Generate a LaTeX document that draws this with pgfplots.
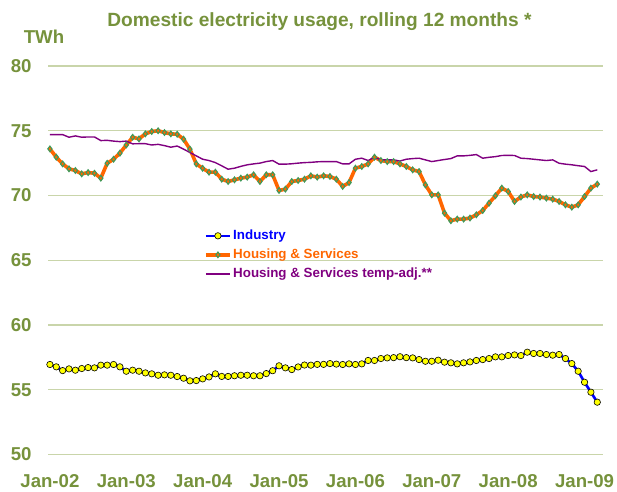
\documentclass[border=0pt]{standalone}
\usepackage{pgfplots}
\pgfplotsset{compat=1.18}
\usepackage{pgfplotstable}
\usepackage{fontspec}
\setmainfont{Liberation Sans}
\definecolor{olivec}{HTML}{76923C}
\definecolor{gridc}{HTML}{C9D5AA}
\definecolor{orangec}{HTML}{FF6600}
\definecolor{markg}{HTML}{3E9A5A}
\definecolor{purplec}{HTML}{800080}
\definecolor{bluec}{HTML}{0000FF}
\definecolor{yellowc}{HTML}{FFFF00}

\pgfplotstableread{
m v
0 56.95
1 56.77
2 56.48
3 56.61
4 56.51
5 56.64
6 56.71
7 56.69
8 56.90
9 56.90
10 56.95
11 56.77
12 56.43
13 56.51
14 56.43
15 56.30
16 56.23
17 56.12
18 56.15
19 56.12
20 56.02
21 55.89
22 55.69
23 55.71
24 55.84
25 55.99
26 56.23
27 56.03
28 56.03
29 56.08
30 56.12
31 56.12
32 56.08
33 56.08
34 56.25
35 56.47
36 56.85
37 56.69
38 56.56
39 56.76
40 56.91
41 56.90
42 56.96
43 56.96
44 57.02
45 56.98
46 56.95
47 57.00
48 56.95
49 57.00
50 57.26
51 57.26
52 57.41
53 57.46
54 57.48
55 57.55
56 57.48
57 57.46
58 57.33
59 57.20
60 57.20
61 57.28
62 57.13
63 57.08
64 57.00
65 57.08
66 57.15
67 57.26
68 57.33
69 57.41
70 57.54
71 57.54
72 57.64
73 57.69
74 57.64
75 57.90
76 57.80
77 57.80
78 57.72
79 57.67
80 57.72
81 57.41
82 57.02
83 56.43
84 55.58
85 54.81
86 54.04
}\industry

\pgfplotstableread{
m v
0 73.60
1 72.96
2 72.44
3 72.06
4 71.93
5 71.67
6 71.77
7 71.72
8 71.34
9 72.49
10 72.80
11 73.27
12 73.90
13 74.50
14 74.37
15 74.76
16 74.94
17 75.00
18 74.86
19 74.76
20 74.73
21 74.35
22 73.58
23 72.44
24 72.10
25 71.80
26 71.80
27 71.26
28 71.08
29 71.21
30 71.34
31 71.42
32 71.60
33 71.08
34 71.60
35 71.60
36 70.39
37 70.49
38 71.08
39 71.16
40 71.26
41 71.52
42 71.42
43 71.52
44 71.47
45 71.26
46 70.70
47 71.00
48 72.11
49 72.24
50 72.44
51 72.96
52 72.70
53 72.62
54 72.62
55 72.44
56 72.24
57 71.98
58 71.85
59 70.82
60 70.05
61 70.05
62 68.64
63 68.05
64 68.18
65 68.18
66 68.26
67 68.51
68 68.84
69 69.41
70 69.98
71 70.57
72 70.31
73 69.54
74 69.88
75 70.05
76 69.92
77 69.88
78 69.80
79 69.72
80 69.54
81 69.28
82 69.10
83 69.28
84 69.92
85 70.57
86 70.88
}\housing

\pgfplotstableread{
m v
0 74.70
1 74.70
2 74.70
3 74.50
4 74.60
5 74.50
6 74.52
7 74.52
8 74.24
9 74.26
10 74.20
11 74.16
12 74.20
13 73.99
14 74.00
15 74.00
16 73.90
17 73.95
18 73.85
19 73.73
20 73.82
21 73.58
22 73.32
23 73.06
24 72.80
25 72.70
26 72.54
27 72.29
28 72.03
29 72.11
30 72.25
31 72.37
32 72.44
33 72.50
34 72.62
35 72.70
36 72.42
37 72.42
38 72.45
39 72.50
40 72.54
41 72.56
42 72.60
43 72.62
44 72.62
45 72.62
46 72.44
47 72.44
48 72.80
49 72.88
50 72.70
51 72.96
52 72.75
53 72.75
54 72.75
55 72.66
56 72.80
57 72.85
58 72.88
59 72.75
60 72.62
61 72.70
62 72.78
63 72.85
64 73.06
65 73.06
66 73.10
67 73.16
68 72.88
69 72.95
70 73.00
71 73.09
72 73.10
73 73.09
74 72.88
75 72.85
76 72.80
77 72.75
78 72.70
79 72.75
80 72.49
81 72.42
82 72.37
83 72.30
84 72.24
85 71.85
86 71.98
}\tempadj

\begin{document}
\begin{tikzpicture}
\begin{axis}[
  name=ax,
  scale only axis,
  width=555bp, height=388.5bp,
  xmin=-0.3, xmax=86.9,
  ymin=50, ymax=80,
  ytick={50,55,...,80},
  xtick={0,12,...,84},
  xticklabels={Jan-02,Jan-03,Jan-04,Jan-05,Jan-06,Jan-07,Jan-08,Jan-09},
  axis line style={draw=none},
  major tick length=0pt,
  ymajorgrids,
  grid style={draw=gridc, line width=1.3bp},
  tick label style={font=\bfseries\fontsize{18.7}{22}\selectfont, text=olivec},
  /pgf/number format/assume math mode=true,
  yticklabel style={xshift=-13bp},
  xticklabel style={yshift=-16.5bp},
  clip=false,
  legend cell align=left,
  legend style={at={(axis cs:24.2,67.52)}, anchor=north west, draw=none, fill=none,
    inner sep=0pt, row sep=3bp,
    font=\bfseries\fontsize{13.4}{15}\selectfont,
    nodes={inner sep=1.5bp, text height=10bp, text depth=3bp}},
  legend image code/.code={\draw[mark repeat=2,mark phase=2,#1] plot coordinates {(0bp,0bp) (12bp,0bp) (24bp,0bp)};},
]
\addplot[bluec, line width=2.6bp, mark=*, mark size=3.2bp,
  mark options={fill=yellowc, draw=black, line width=0.6bp}] table[x=m,y=v] {\industry};
\addlegendentry{\textcolor{bluec}{Industry}}
\addplot[orangec, line width=3.6bp, mark=diamond*, mark size=2.8bp,
  mark options={fill=orangec, draw=markg, line width=1.1bp}] table[x=m,y=v] {\housing};
\addlegendentry{\textcolor{orangec}{Housing \& Services}}
\addplot[purplec, line width=1.4bp] table[x=m,y=v] {\tempadj};
\addlegendentry{\textcolor{purplec}{Housing \& Services temp-adj.**}}
\end{axis}
\node[font=\bfseries\fontsize{19.2}{22}\selectfont, text=olivec] at ([shift={(271.5bp,433bp)}]ax.south west) {Domestic electricity usage, rolling 12 months *};
\node[font=\bfseries\fontsize{18.7}{22}\selectfont, text=olivec] at ([shift={(-4bp,417.5bp)}]ax.south west) {TWh};
\pgfresetboundingbox
\path ([shift={(-48bp,-37.5bp)}]ax.south west) rectangle ++(617bp,492bp);
\end{tikzpicture}
\end{document}
